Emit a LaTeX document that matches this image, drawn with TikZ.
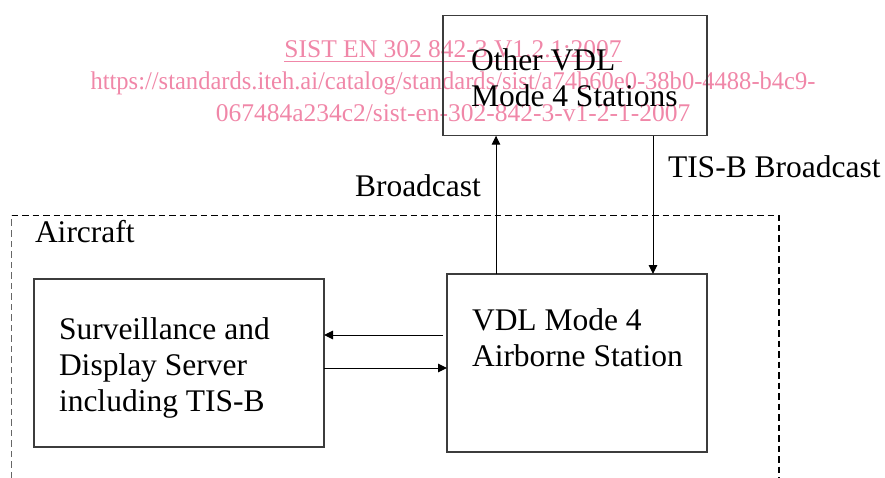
\documentclass[tikz,border=0pt]{standalone}
\usepackage{fontspec}
\setmainfont{Liberation Serif}
\usetikzlibrary{arrows.meta, calc}
\definecolor{mypink}{RGB}{240,135,168}
\definecolor{mygray}{RGB}{60,60,60}
\tikzstyle{box} = [draw=mygray, line width=1.2pt, inner sep=0, outer sep=0]
\tikzstyle{txt} = [inner sep=0, outer sep=0, anchor=north west, align=left,
    font=\fontsize{31.5}{36}\selectfont]
\tikzstyle{lbl} = [inner sep=0, outer sep=0, anchor=base west,
    font=\fontsize{31.5}{36}\selectfont]
\tikzstyle{link} = [line width=1pt, draw=black, -{Triangle[length=9pt, width=8.5pt]}]
\tikzstyle{frame} = [line width=1.8pt, dash pattern=on 6.5pt off 4pt]
\tikzstyle{stamp} = [inner sep=0, anchor=north, align=center, text=mypink,
    font=\fontsize{25.5}{32}\selectfont]

\begin{document}
\begin{tikzpicture}[x=1pt, y=-1pt]
\useasboundingbox (0,0) rectangle (885,478);

%%% watermark
\node[stamp] (stamp) at (453,40) {\underline{\raisebox{0pt}[\height][3pt]{SIST EN 302 842-3 V1.2.1:2007}}\\
    \scalebox{0.962}[1]{https://standards.iteh.ai/catalog/standards/sist/a74b60e0-38b0-4488-b4c9-}\\
    067484a234c2/sist-en-302-842-3-v1-2-1-2007};

%%% boxes
\node[box, minimum width=264pt, minimum height=120pt] (stations) at (575,75.7) {};
\node[box, minimum width=290pt, minimum height=168pt] (server) at (179,363) {};
\node[box, minimum width=260pt, minimum height=178pt] (airborne) at (577,363) {};

\node[txt] (stations-txt) at ([xshift=28pt, yshift=-33pt]stations.north west) {Other VDL\\Mode 4 Stations};
\node[txt] (server-txt) at ([xshift=25pt, yshift=-38.5pt]server.north west) {Surveillance and\\Display Server\\including TIS-B};
\node[txt] (airborne-txt) at ([xshift=25pt, yshift=-35pt]airborne.north west) {VDL Mode 4\\Airborne Station};

%%% aircraft frame
\draw[frame, line width=0.6pt, draw=black!60] (11.5,478) -- (11.5,215.5);
\draw[frame] (11.5,215.5) -- (779,215.5) -- (779,478);
\node[lbl] (aircraft) at (35,243) {Aircraft};

%%% links
\coordinate (up) at ([xshift=49pt]airborne.north west);
\coordinate (down) at ([xshift=-54pt]stations.south east);
\coordinate (back) at ([xshift=-4pt, yshift=28pt]airborne.west);
\coordinate (fwd) at ([yshift=-5pt]server.east);

\draw[link] (up) -- (up |- stations.south);
\draw[link] (down) -- (down |- airborne.north);
\draw[link] (back) -- (back -| server.east);
\draw[link] (fwd) -- (fwd -| airborne.west);

\node[lbl] (bcast) at (355,197) {Broadcast};
\node[lbl] (tisb) at (668,177.5) {TIS-B Broadcast};

\end{tikzpicture}
\end{document}
